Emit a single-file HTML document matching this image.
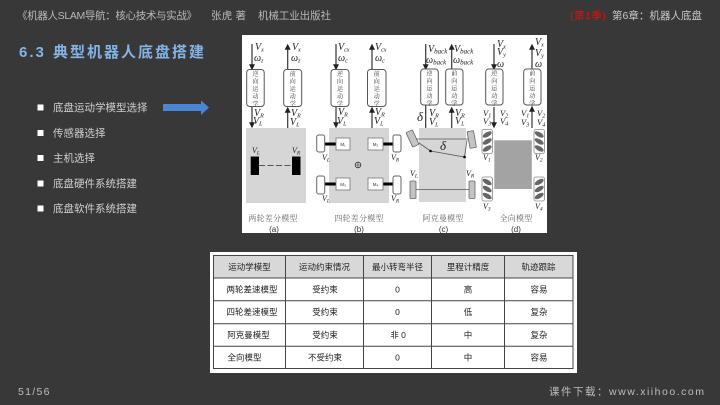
<!DOCTYPE html>
<html lang="zh"><head><meta charset="utf-8"><title>典型机器人底盘搭建</title>
<style>
html,body{margin:0;padding:0;background:#383838;width:720px;height:405px;overflow:hidden}
svg{display:block}
text{font-family:"Liberation Sans","Noto Sans CJK SC",sans-serif}
.s{font-family:"Liberation Serif","Noto Serif CJK SC",serif;font-style:italic;fill:#222}
.v{font-family:"Noto Serif CJK SC",serif;font-size:6px;letter-spacing:1.6px;writing-mode:vertical-rl;fill:#333}
.c{font-family:"Noto Serif CJK SC",serif;font-size:8px;fill:#666;text-anchor:middle;letter-spacing:.2px}
.t{font-size:8.5px;fill:#222;text-anchor:middle}
.b{font-size:10.5px;fill:#d0d0d0}
.box{fill:#fff;stroke:#555;stroke-width:1}
.w{fill:#fff;stroke:#666;stroke-width:1}
.m{fill:#fff;stroke:#777;stroke-width:.8}
</style></head><body>
<svg width="720" height="405" viewBox="0 0 720 405" xmlns="http://www.w3.org/2000/svg">
<defs>
<marker id="a" markerWidth="6" markerHeight="6" refX="4" refY="2.5" orient="auto"><path d="M0 0L5 2.5L0 5z" fill="#222"/></marker>
</defs>
<rect width="720" height="405" fill="#383838"/>
<text x="17" y="19" font-size="10.5" fill="#b8b8b8" textLength="180">《机器人SLAM导航：核心技术与实战》</text>
<text x="211" y="19" font-size="10.5" fill="#b8b8b8" textLength="35">张虎 著</text>
<text x="258" y="19" font-size="10.5" fill="#b8b8b8" textLength="73">机械工业出版社</text>
<text x="570" y="19" font-size="10.5" fill="#e01010" textLength="36">(第1季)</text>
<text x="612" y="19" font-size="10.5" fill="#c8c8c8" textLength="90">第6章：机器人底盘</text>
<text x="19" y="57" font-size="15" font-weight="bold" fill="#84b4e6" letter-spacing="2">6.3</text>
<text x="53" y="57" font-size="15" font-weight="bold" fill="#84b4e6" letter-spacing="2">典型机器人底盘搭建</text>

<rect x="37.5" y="104.5" width="6" height="6" fill="#fff"/>
<rect x="37.5" y="130" width="6" height="6" fill="#fff"/>
<rect x="37.5" y="155" width="6" height="6" fill="#fff"/>
<rect x="37.5" y="180.500" width="6" height="6" fill="#fff"/>
<rect x="37.5" y="205.500" width="6" height="6" fill="#fff"/>
<text class="b" x="53" y="111">底盘运动学模型选择</text>
<text class="b" x="53" y="136.500">传感器选择</text>
<text class="b" x="53" y="161.500">主机选择</text>
<text class="b" x="53" y="187">底盘硬件系统搭建</text>
<text class="b" x="53" y="212">底盘软件系统搭建</text>
<path d="M163 104H201V100.500L209 107.500L201 115V111H163z" fill="#4a86d6"/>

<g style="filter:blur(.3px)">
<rect x="242" y="35" width="305" height="198" fill="#fff"/>
<!-- gray panels -->
<rect x="246" y="128" width="60" height="75" fill="#d6d6d6"/>
<rect x="329" y="128" width="60" height="75" fill="#d6d6d6"/>
<rect x="419" y="128" width="47" height="74" fill="#d6d6d6"/>
<rect x="494.300" y="140.300" width="37.500" height="48.700" fill="#a3a3a3"/>
<!-- connector lines -->
<g stroke="#333" stroke-width="1.200" fill="none">
<path d="M252 44V69" marker-end="url(#a)"/><path d="M252 107V127" marker-end="url(#a)"/>
<path d="M287.700 69V45" marker-end="url(#a)"/><path d="M287.700 128V108" marker-end="url(#a)"/>
<path d="M336 44V69" marker-end="url(#a)"/><path d="M336 107V127" marker-end="url(#a)"/>
<path d="M372 69V45" marker-end="url(#a)"/><path d="M372 128V108" marker-end="url(#a)"/>
<path d="M425.700 44V69" marker-end="url(#a)"/>
<path d="M451.700 69V45" marker-end="url(#a)"/><path d="M451.700 128V108" marker-end="url(#a)"/>
<path d="M494 44V69" marker-end="url(#a)"/><path d="M494 107V127" marker-end="url(#a)"/>
<path d="M532 69V45" marker-end="url(#a)"/><path d="M532 128V107" marker-end="url(#a)"/>
<path d="M425.700 105V128"/>
</g>
<!-- module boxes -->
<rect class="box" x="246.700" y="69.500" width="17.500" height="37" rx="3"/>
<rect class="box" x="283.700" y="69.500" width="18" height="37" rx="3"/>
<rect class="box" x="331" y="69.500" width="18" height="37" rx="3"/>
<rect class="box" x="367.500" y="69.500" width="18.500" height="37" rx="3"/>
<rect class="box" x="420.700" y="69" width="17.600" height="36" rx="3"/>
<rect class="box" x="445.700" y="69" width="17.300" height="36" rx="3"/>
<rect class="box" x="485.700" y="69" width="17.300" height="36" rx="3"/>
<rect class="box" x="523.700" y="69" width="17.300" height="36" rx="3"/>
<text class="v" x="255.500" y="70.500">逆向运动学</text>
<text class="v" x="292.700" y="70.500">前向运动学</text>
<text class="v" x="340" y="70.500">逆向运动学</text>
<text class="v" x="376.700" y="70.500">前向运动学</text>
<text class="v" x="429.500" y="70">逆向运动学</text>
<text class="v" x="454.300" y="70">前向运动学</text>
<text class="v" x="494.300" y="70">逆向运动学</text>
<text class="v" x="532.300" y="70">前向运动学</text>
<!-- labels -->
<g font-size="10">
<text class="s" x="255" y="50">V<tspan font-size="6" dy="1.5">x</tspan></text>
<text class="s" x="254" y="61">ω<tspan font-size="6" dy="1.5">z</tspan></text>
<text class="s" x="292" y="50">V<tspan font-size="6" dy="1.5">x</tspan></text>
<text class="s" x="291" y="61">ω<tspan font-size="6" dy="1.5">z</tspan></text>
<text class="s" x="254" y="116">V<tspan font-size="6" dy="1.5">R</tspan></text>
<text class="s" x="253" y="124">V<tspan font-size="6" dy="1.5">L</tspan></text>
<text class="s" x="291" y="116">V<tspan font-size="6" dy="1.5">R</tspan></text>
<text class="s" x="290" y="125">V<tspan font-size="6" dy="1.500">L</tspan></text>
<text class="s" x="338" y="50">V<tspan font-size="6" dy="1.5">cx</tspan></text>
<text class="s" x="338" y="61">ω<tspan font-size="6" dy="1.5">c</tspan></text>
<text class="s" x="375" y="50">V<tspan font-size="6" dy="1.5">cx</tspan></text>
<text class="s" x="375" y="61">ω<tspan font-size="6" dy="1.5">c</tspan></text>
<text class="s" x="338" y="115">V<tspan font-size="6" dy="1.5">R</tspan></text>
<text class="s" x="337" y="124">V<tspan font-size="6" dy="1.5">L</tspan></text>
<text class="s" x="375" y="115">V<tspan font-size="6" dy="1.5">R</tspan></text>
<text class="s" x="374" y="124">V<tspan font-size="6" dy="1.5">L</tspan></text>
<text class="s" x="428" y="52">V<tspan font-size="7" dy="1.5">back</tspan></text>
<text class="s" x="426" y="63">ω<tspan font-size="7" dy="1.5">back</tspan></text>
<text class="s" x="454" y="52">V<tspan font-size="7" dy="1.5">back</tspan></text>
<text class="s" x="453" y="63">ω<tspan font-size="7" dy="1.5">back</tspan></text>
<text class="s" x="429" y="116">V<tspan font-size="6" dy="1.5">R</tspan></text>
<text class="s" x="429" y="125">V<tspan font-size="6" dy="1.5">L</tspan></text>
<text class="s" x="455" y="116">V<tspan font-size="6" dy="1.5">R</tspan></text>
<text class="s" x="455" y="124">V<tspan font-size="6" dy="1.5">L</tspan></text>
<text class="s" x="417" y="121" font-size="13">δ</text>
<text class="s" x="497" y="47">V<tspan font-size="6" dy="1.5">x</tspan></text>
<text class="s" x="497" y="55">V<tspan font-size="6" dy="1.5">y</tspan></text>
<text class="s" x="497" y="67">ω</text>
<text class="s" x="535" y="45">V<tspan font-size="6" dy="1.5">x</tspan></text>
<text class="s" x="535" y="56">V<tspan font-size="6" dy="1.5">y</tspan></text>
<text class="s" x="535" y="67">ω</text>
<text class="s" x="483" y="116" font-size="8.500">V<tspan font-size="6" dy="1.5">1</tspan></text>
<text class="s" x="483" y="124" font-size="8.500">V<tspan font-size="6" dy="1.5">3</tspan></text>
<text class="s" x="500" y="116" font-size="8.500">V<tspan font-size="6" dy="1.5">2</tspan></text>
<text class="s" x="500" y="124" font-size="8.500">V<tspan font-size="6" dy="1.5">4</tspan></text>
<text class="s" x="521" y="116" font-size="8.500">V<tspan font-size="6" dy="1.5">1</tspan></text>
<text class="s" x="521" y="125" font-size="8.500">V<tspan font-size="6" dy="1.5">3</tspan></text>
<text class="s" x="537" y="116" font-size="8.500">V<tspan font-size="6" dy="1.5">2</tspan></text>
<text class="s" x="537" y="125" font-size="8.500">V<tspan font-size="6" dy="1.5">4</tspan></text>
</g>
<!-- a wheels -->
<rect x="250.700" y="156.500" width="8.300" height="18.500" fill="#000"/>
<rect x="292" y="156.500" width="8.500" height="18.500" fill="#000"/>
<path d="M259 165.500H292" stroke="#555" stroke-width="1" stroke-dasharray="6 2.500"/>
<text class="s" x="252" y="153" font-size="8">V<tspan font-size="5.500" dy="1.500">L</tspan></text>
<text class="s" x="292" y="153" font-size="8">V<tspan font-size="5.500" dy="1.500">R</tspan></text>
<!-- b wheels -->
<path d="M325 144H336M383 144H393M325 184H336M383 184H393" stroke="#000" stroke-width="3" fill="none"/>
<rect class="w" x="316.700" y="135" width="8" height="17" rx="2"/>
<rect class="w" x="393" y="135" width="8" height="17" rx="2"/>
<rect class="w" x="316.700" y="176" width="8" height="18" rx="2"/>
<rect class="w" x="393" y="176" width="8" height="18" rx="2"/>
<rect class="m" x="336" y="138" width="14" height="12"/>
<rect class="m" x="368" y="138" width="15" height="12"/>
<rect class="m" x="336" y="178" width="14" height="12"/>
<rect class="m" x="368" y="178" width="15" height="12"/>
<text x="343" y="146" font-size="4.500" fill="#333" text-anchor="middle">M₁</text>
<text x="375.500" y="146" font-size="4.500" fill="#333" text-anchor="middle">M₂</text>
<text x="343" y="186" font-size="4.500" fill="#333" text-anchor="middle">M₃</text>
<text x="375.500" y="186" font-size="4.500" fill="#333" text-anchor="middle">M₄</text>
<circle cx="358" cy="165" r="2.800" fill="none" stroke="#333" stroke-width=".8"/>
<path d="M355.200 165H360.800M358 162.200V167.800" stroke="#333" stroke-width=".6"/>
<text class="s" x="322" y="160" font-size="8">V<tspan font-size="5.500" dy="1.500">L</tspan></text>
<text class="s" x="391" y="160" font-size="8">V<tspan font-size="5.500" dy="1.500">R</tspan></text>
<text class="s" x="322" y="201" font-size="8">V<tspan font-size="5.500" dy="1.500">L</tspan></text>
<text class="s" x="391" y="201" font-size="8">V<tspan font-size="5.500" dy="1.500">R</tspan></text>
<!-- c -->
<g fill="#c4c4c4" stroke="#666" stroke-width=".8">
<rect x="409" y="130.500" width="7" height="16" rx="1" transform="rotate(-25 412.500 138.500)"/>
<rect x="468.500" y="131" width="6.500" height="17" rx="1" transform="rotate(-10 471.700 139.500)"/>
<rect x="410" y="181" width="6" height="17.500" rx="1"/>
<rect x="469" y="181" width="6" height="17.500" rx="1"/>
</g>
<path d="M416 139H468M419 143L430.500 151L464.500 157L467 140M416 189.500H469" stroke="#555" stroke-width=".8" fill="none"/>
<circle cx="430.500" cy="151" r="1.300" fill="#000"/><circle cx="464.500" cy="157" r="1.300" fill="#000"/>
<text class="s" x="440" y="150" font-size="13">δ</text>
<text class="s" x="410" y="176" font-size="8">V<tspan font-size="5.500" dy="1.500">L</tspan></text>
<text class="s" x="466" y="176" font-size="8">V<tspan font-size="5.500" dy="1.500">R</tspan></text>
<!-- d wheels -->
<g>
<rect x="482" y="129.500" width="10.500" height="24" rx="2" fill="#fff" stroke="#888" stroke-width=".8"/>
<rect x="534" y="129.500" width="10.500" height="24" rx="2" fill="#fff" stroke="#888" stroke-width=".8"/>
<rect x="482" y="177" width="10.500" height="24" rx="2" fill="#fff" stroke="#888" stroke-width=".8"/>
<rect x="534" y="177" width="10.500" height="24" rx="2" fill="#fff" stroke="#888" stroke-width=".8"/>
<g fill="#666">
<ellipse cx="487.200" cy="134.500" rx="5" ry="2.300" transform="rotate(-30 487.200 134.500)"/>
<ellipse cx="487.200" cy="141.500" rx="5" ry="2.300" transform="rotate(-30 487.200 141.500)"/>
<ellipse cx="487.200" cy="148.500" rx="5" ry="2.300" transform="rotate(-30 487.200 148.500)"/>
<ellipse cx="539.200" cy="134.500" rx="5" ry="2.300" transform="rotate(30 539.200 134.500)"/>
<ellipse cx="539.200" cy="141.500" rx="5" ry="2.300" transform="rotate(30 539.200 141.500)"/>
<ellipse cx="539.200" cy="148.500" rx="5" ry="2.300" transform="rotate(30 539.200 148.500)"/>
<ellipse cx="487.200" cy="182" rx="5" ry="2.300" transform="rotate(30 487.200 182)"/>
<ellipse cx="487.200" cy="189" rx="5" ry="2.300" transform="rotate(30 487.200 189)"/>
<ellipse cx="487.200" cy="196" rx="5" ry="2.300" transform="rotate(30 487.200 196)"/>
<ellipse cx="539.200" cy="182" rx="5" ry="2.300" transform="rotate(-30 539.200 182)"/>
<ellipse cx="539.200" cy="189" rx="5" ry="2.300" transform="rotate(-30 539.200 189)"/>
<ellipse cx="539.200" cy="196" rx="5" ry="2.300" transform="rotate(-30 539.200 196)"/>
</g>
<text class="s" x="483" y="160" font-size="8">V<tspan font-size="5.500" dy="1.500">1</tspan></text>
<text class="s" x="535" y="160" font-size="8">V<tspan font-size="5.500" dy="1.500">2</tspan></text>
<text class="s" x="483" y="209" font-size="8">V<tspan font-size="5.500" dy="1.500">3</tspan></text>
<text class="s" x="535" y="209" font-size="8">V<tspan font-size="5.500" dy="1.500">4</tspan></text>
</g>
<!-- captions -->
<text class="c" x="273" y="221">两轮差分模型</text>
<text class="c" x="359" y="221">四轮差分模型</text>
<text class="c" x="443" y="221">阿克曼模型</text>
<text class="c" x="516" y="221">全向模型</text>
<text x="274" y="232" font-size="8" fill="#333" text-anchor="middle">(a)</text>
<text x="359" y="232" font-size="8" fill="#333" text-anchor="middle">(b)</text>
<text x="443.500" y="232" font-size="8" fill="#333" text-anchor="middle">(c)</text>
<text x="516" y="232" font-size="8" fill="#333" text-anchor="middle">(d)</text>
</g>

<!-- table -->
<g style="filter:blur(.25px)">
<rect x="210" y="252" width="367" height="121" fill="#fff"/>
<rect x="213.500" y="255.500" width="359.500" height="22.500" fill="#d8d8d8"/>
<g stroke="#444" stroke-width="1" fill="none">
<rect x="213.500" y="255.500" width="359.500" height="113"/>
<path d="M285.500 255.500V368.500M363.500 255.500V368.500M431.500 255.500V368.500M504.500 255.500V368.500"/>
<path d="M213.500 278H573M213.500 300.800H573M213.500 323.700H573M213.500 346.300H573"/>
</g>
<text class="t" x="249.500" y="270">运动学模型</text>
<text class="t" x="324.500" y="270">运动约束情况</text>
<text class="t" x="397.500" y="270">最小转弯半径</text>
<text class="t" x="468" y="270">里程计精度</text>
<text class="t" x="538.500" y="270">轨迹跟踪</text>
<text class="t" x="252" y="292.500">两轮差速模型</text>
<text class="t" x="325" y="292.500">受约束</text>
<text class="t" x="397.500" y="292.500">0</text>
<text class="t" x="468" y="292.500">高</text>
<text class="t" x="539" y="292.500">容易</text>
<text class="t" x="252" y="315">四轮差速模型</text>
<text class="t" x="325" y="315">受约束</text>
<text class="t" x="397.500" y="315">0</text>
<text class="t" x="468" y="315">低</text>
<text class="t" x="539" y="315">复杂</text>
<text class="t" x="248.500" y="338">阿克曼模型</text>
<text class="t" x="325" y="338">受约束</text>
<text class="t" x="398" y="338">非 0</text>
<text class="t" x="468" y="338">中</text>
<text class="t" x="539" y="338">复杂</text>
<text class="t" x="244.500" y="360.500">全向模型</text>
<text class="t" x="325" y="360.500">不受约束</text>
<text class="t" x="397.500" y="360.500">0</text>
<text class="t" x="468" y="360.500">中</text>
<text class="t" x="539" y="360.500">容易</text>
</g>

<text x="18" y="395" font-size="10.500" fill="#bdbdbd" letter-spacing="1.300">51/56</text>
<text x="549" y="395" font-size="10.500" fill="#bdbdbd" textLength="155">课件下载：www.xiihoo.com</text>
</svg>
</body></html>
